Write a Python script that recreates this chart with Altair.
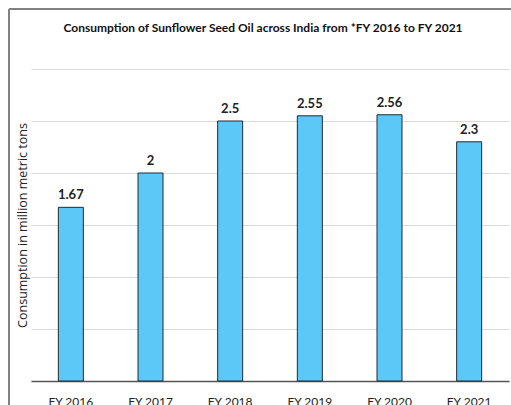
import altair as alt
import pandas as pd

years = ["FY 2016", "FY 2017", "FY 2018", "FY 2019", "FY 2020", "FY 2021"]
values = [1.67, 2, 2.5, 2.55, 2.56, 2.3]
labels = ["1.67", "2", "2.5", "2.55", "2.56", "2.3"]
grid_ticks = [0, 0.5, 1, 1.5, 2, 2.5, 3]
title_text = "Consumption of Sunflower Seed Oil across India from *FY 2016 to FY 2021"

df = pd.DataFrame({"year": years, "value": values, "label": labels})

FONT = "Lato, sans-serif"

x = alt.X("year:N", sort=years, title=None,
          scale=alt.Scale(paddingInner=0.69, paddingOuter=0.345),
          axis=alt.Axis(labelAngle=0, labelFont=FONT, labelFontSize=12, labelColor="#222222",
                        ticks=False, domainColor="#555555", domainWidth=1.5,
                        labelPadding=15, labelBaseline="top"))
y = alt.Y("value:Q", scale=alt.Scale(domain=[0, 3], nice=False),
          axis=alt.Axis(values=grid_ticks, labels=False, ticks=False, domain=False,
                        gridColor="#d9d9d9", gridWidth=1,
                        title="Consumption in million metric tons",
                        titleFont="Open Sans, sans-serif", titleFontSize=12.5,
                        titleFontWeight="normal", titleColor="#222222",
                        titleAngle=-90, titleX=-9, titleY=156,
                        titleAlign="center", titleBaseline="middle"))

bars = alt.Chart(df).mark_bar(size=25, color="#5BC8F7", stroke="#1f2a36", strokeWidth=1).encode(
    x=x, y=y)

text = alt.Chart(df).mark_text(font=FONT, fontSize=13, fontWeight="bold", color="#222222",
                               baseline="bottom", dy=-5).encode(
    x=alt.X("year:N", sort=years), y="value:Q", text="label:N")

title = alt.Chart(pd.DataFrame({"t": [title_text]})).mark_text(
    font=FONT, fontSize=12, fontWeight="bold", color="#111111",
    align="center", baseline="middle").encode(
    x=alt.value(232), y=alt.value(-41), text="t:N")

frame_top = alt.Chart(df).mark_rule(color="#7f7f7f", strokeWidth=1).encode(
    x=alt.value(-22), x2=alt.value(480), y=alt.value(-60))
frame_left = alt.Chart(df).mark_rule(color="#7f7f7f", strokeWidth=1).encode(
    x=alt.value(-22), y=alt.value(-60), y2=alt.value(340))

chart = alt.layer(bars, text, title, frame_top, frame_left).properties(
    width=478, height=312,
    padding={"left": 31, "top": 69, "right": 2, "bottom": 24},
    autosize=alt.AutoSizeParams(type="none"),
).configure(background="white").configure_view(stroke=None)

chart.save("out.html", embed_options={"renderer": "svg", "actions": False})
